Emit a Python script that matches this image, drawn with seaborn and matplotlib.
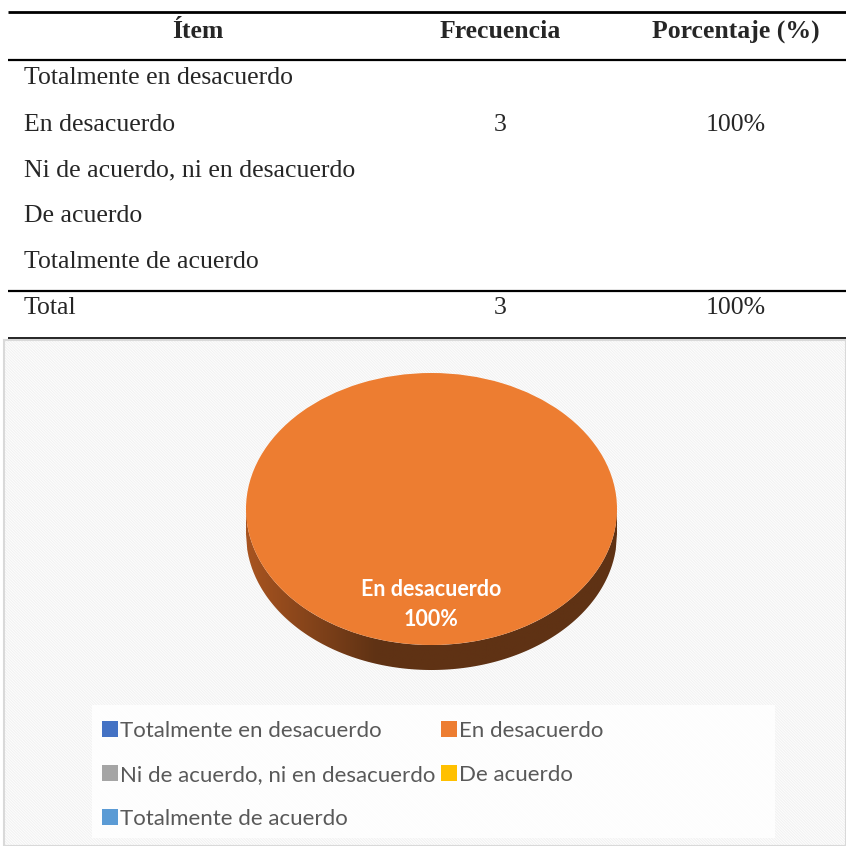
import matplotlib
matplotlib.use("Agg")
import matplotlib.pyplot as plt
import numpy as np
import seaborn as sns
from matplotlib.patches import Rectangle, Polygon

# ---------------------------------------------------------------- data
CATEGORIES = [
    "Totalmente en desacuerdo",
    "En desacuerdo",
    "Ni de acuerdo, ni en desacuerdo",
    "De acuerdo",
    "Totalmente de acuerdo",
]
FREQUENCY = [0, 3, 0, 0, 0]
TOTAL_FREQ = 3
TABLE_HEADER = ["Ítem", "Frecuencia", "Porcentaje (%)"]
COLORS = ["#4472C4", "#ED7D31", "#A5A5A5", "#FFC000", "#5B9BD5"]

sns.set_theme(style="white")
plt.rcParams["font.family"] = ["Liberation Serif", "DejaVu Serif"]
plt.rcParams["hatch.linewidth"] = 0.8

fig = plt.figure(figsize=(8.46, 8.46), dpi=100)

# background axes in pixel coordinates
bg = fig.add_axes([0, 0, 1, 1])
bg.set_xlim(0, 846)
bg.set_ylim(846, 0)
bg.axis("off")

# ---------------------------------------------------------------- table
FS = 18.5
for y, lw in [(12, 2.0), (60, 1.6), (291, 1.6), (338, 1.2)]:
    bg.hlines(y, 8, 846, color="black", lw=lw)

for x, txt in zip([198, 500, 736], TABLE_HEADER):
    bg.text(x, 31, txt, ha="center", va="center", fontsize=FS, fontweight="bold")

row_y = [78, 125, 170, 216, 262]
for y, cat, f in zip(row_y, CATEGORIES, FREQUENCY):
    bg.text(24, y, cat, ha="left", va="center", fontsize=FS)
    if f:
        bg.text(500, y, str(f), ha="center", va="center", fontsize=FS)
        bg.text(736, y, f"{round(100 * f / TOTAL_FREQ)}%", ha="center", va="center", fontsize=FS)

bg.text(24, 308, "Total", ha="left", va="center", fontsize=FS)
bg.text(500, 308, str(TOTAL_FREQ), ha="center", va="center", fontsize=FS)
bg.text(736, 308, f"{round(100 * sum(FREQUENCY) / TOTAL_FREQ)}%", ha="center", va="center", fontsize=FS)

# ---------------------------------------------------------------- chart area
bg.add_patch(Rectangle((4, 340), 842, 506, facecolor="white", edgecolor="#f2f2f2",
                       hatch="\\" * 12, lw=0))
bg.add_patch(Rectangle((4, 340), 842, 506, facecolor="none", edgecolor="#d9d9d9", lw=1.5))
# legend area
bg.add_patch(Rectangle((92, 705), 683, 133, facecolor="white", edgecolor="none", alpha=0.85))

# pie axes: ellipse 371 x 272 px, depth 25 px
left, right, top, bottom = 246, 617, 373, 670
ax = fig.add_axes([left / 846, 1 - bottom / 846, (right - left) / 846, (bottom - top) / 846])
depth = 25 / 136

# side of the 3D pie with a horizontal brown gradient
xs = np.linspace(-1, 1, 300)
upper = -np.sqrt(1 - xs ** 2)
pts = np.vstack([np.column_stack([xs, upper]),
                 np.column_stack([xs[::-1], upper[::-1] - depth])])
side = Polygon(pts, closed=True, facecolor="none", edgecolor="none")
ax.add_patch(side)
grad = np.interp(np.linspace(-1, 1, 256), [-1, -0.3, 1], [0, 1, 1])
c0 = np.array([168, 84, 32]) / 255
c1 = np.array([95, 50, 20]) / 255
img = c0[None, :] + (c1 - c0)[None, :] * grad[:, None]
im = ax.imshow(img[None, :, :], extent=(-1, 1, -1 - depth, 0), aspect="auto", zorder=1)
im.set_clip_path(side)

labels = [f"{c}\n{round(100 * f / TOTAL_FREQ)}%" if f else "" for c, f in zip(CATEGORIES, FREQUENCY)]
wedges, texts = ax.pie(FREQUENCY, colors=COLORS, startangle=90, counterclock=False,
                       radius=1, center=(0, 0), labels=labels, labeldistance=0.7,
                       wedgeprops=dict(linewidth=0, zorder=2))
for t in texts:
    t.set_color("white")
    t.set_fontweight("bold")
    t.set_fontsize(15.5)
    t.set_family(["Lato", "DejaVu Sans"])
    t.set_ha("center")
    t.set_va("center")
    t.set_linespacing(1.55)
    t.set_zorder(5)
ax.set_aspect("auto")
ax.set_xlim(-1, 1)
ax.set_ylim(-1 - depth, 1)
ax.axis("off")

# ---------------------------------------------------------------- legend
order = [0, 2, 4, 1, 3]
handles = [Rectangle((0, 0), 1, 1, facecolor=COLORS[i], edgecolor="none") for i in order]
leg = fig.legend(handles, [CATEGORIES[i] for i in order], ncol=2,
                 loc="upper left", bbox_to_anchor=(92 / 846, 1 - 711 / 846),
                 frameon=False, handlelength=0.72, handleheight=0.72,
                 handletextpad=0.1, columnspacing=0.25, labelspacing=1.08,
                 borderpad=0.45, borderaxespad=0, prop={"family": ["Lato", "DejaVu Sans"], "size": 16})
for t in leg.get_texts():
    t.set_color("#595959")

fig.savefig("out.png", dpi=100)
